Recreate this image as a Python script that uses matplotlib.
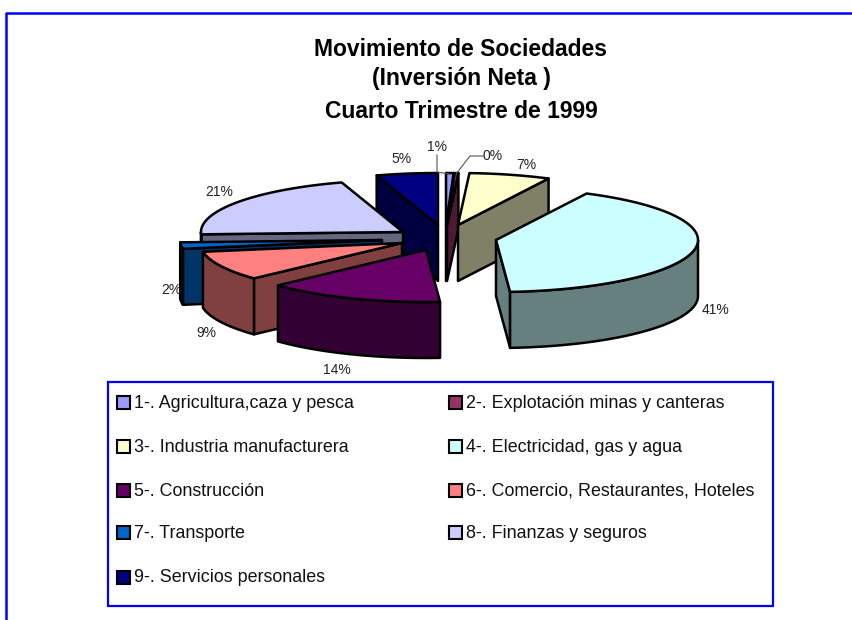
import numpy as np
import matplotlib.pyplot as plt
from matplotlib.patches import Polygon, Rectangle

plt.rcParams['font.family'] = ['Liberation Sans', 'DejaVu Sans']

# data
sectores = ['1-. Agricultura,caza y pesca', '2-. Explotación minas y canteras',
            '3-. Industria manufacturera', '4-. Electricidad, gas y agua',
            '5-. Construcción', '6-. Comercio, Restaurantes, Hoteles',
            '7-. Transporte', '8-. Finanzas y seguros', '9-. Servicios personales']
inversion = [0.6, 0.3, 6.5, 41.49, 14.2, 9.2, 2.0, 20.8, 4.91]
etiquetas = ['1%', '0%', '7%', '41%', '14%', '9%', '2%', '21%', '5%']
colores = ['#9999FF', '#993366', '#FFFFCC', '#CCFFFF', '#660066',
           '#FF8080', '#0066CC', '#CCCCFF', '#000080']

# layout in picture pixels
RX, RY, ALTO = 202, 52, 56
vertices = [(446, 225), (447, 225), (458, 225), (496, 240), (426, 250),
            (402, 243), (382, 240), (403, 232), (438, 225)]
pos_etiq = [(437, 147), (493, 156), (526, 165), (716, 310), (337, 370),
            (206, 333), (171, 290), (219, 192), (402, 159)]
orden = [8, 0, 1, 2, 7, 6, 5, 3, 4]  # back to front
azul = '#0000FF'

fig = plt.figure(figsize=(8.53, 6.2), dpi=100)
ax = fig.add_axes([0, 0, 1, 1])
ax.set_xlim(0, 853)
ax.set_ylim(620, 0)
ax.axis('off')

# outer frame runs off the right and bottom of the picture
ax.plot([6.5, 6.5, 853], [620, 12.5, 12.5], color=azul, lw=1.8, zorder=1)


def oscuro(color, f=0.5):
    rgb = np.array(plt.matplotlib.colors.to_rgb(color))
    return tuple(rgb * f)


def punto(v, ang):
    return v[0] + RX * np.sin(ang), v[1] - RY * np.cos(ang)


def cara(pts, color, z):
    ax.add_patch(Polygon(pts, closed=True, facecolor=color, edgecolor='black',
                         lw=1.8, joinstyle='round', zorder=z))


limites = np.cumsum([0] + inversion) / sum(inversion) * 2 * np.pi
z = 5
for i in orden:
    a0, a1 = limites[i], limites[i + 1]
    v = vertices[i]
    lado = oscuro(colores[i])

    # flat cut faces, only those turned to the viewer
    for ang, normal in [(a0, a0 - np.pi / 2), (a1, a1 + np.pi / 2)]:
        if np.cos(normal) < 0:
            x, y = punto(v, ang)
            cara([v, (x, y), (x, y + ALTO), (v[0], v[1] + ALTO)], lado, z)
            z += 1

    # curved outer wall, front half of the ellipse
    b0, b1 = max(a0, np.pi / 2), min(a1, 3 * np.pi / 2)
    if b1 > b0:
        t = np.linspace(b0, b1, 60)
        xs, ys = punto(v, t)
        arriba = list(zip(xs, ys))
        abajo = list(zip(xs, ys + ALTO))[::-1]
        cara(arriba + abajo, lado, z)
        z += 1

    # top face
    t = np.linspace(a0, a1, 80)
    xs, ys = punto(v, t)
    cara([v] + list(zip(xs, ys)), colores[i], z)
    z += 1

# percent labels
for (x, y), txt in zip(pos_etiq, etiquetas):
    ax.text(x, y, txt, fontsize=10, color='#222222', ha='center', va='center', zorder=60)

# leader lines for the two thin slices
ax.plot([437, 437, 449], [155, 172, 174], color='#555555', lw=0.8, zorder=60)
ax.plot([484, 470, 456], [156, 156, 174], color='#555555', lw=0.8, zorder=60)

# title
for y, txt in zip([50, 79, 111], ['Movimiento de Sociedades', '(Inversión Neta )',
                                  'Cuarto Trimestre de 1999']):
    ax.text(461, y, txt, fontsize=16.5, fontweight='bold', ha='center', va='center', color='black')

# legend box
ax.add_patch(Rectangle((108, 382), 665, 224, facecolor='white', edgecolor=azul, lw=1.6, zorder=70))
filas = [402, 446, 490, 532, 577]
for i, (nombre, color) in enumerate(zip(sectores, colores)):
    fila = filas[i // 2]
    xs = 117.5 if i % 2 == 0 else 449.5
    ax.add_patch(Rectangle((xs, fila - 6), 13, 13, facecolor=color, edgecolor='black', lw=1.5, zorder=71))
    ax.text(xs + 17, fila + 1, nombre, fontsize=12.9, color='#111111', ha='left', va='center', zorder=71)

fig.savefig('out.png', dpi=100)
